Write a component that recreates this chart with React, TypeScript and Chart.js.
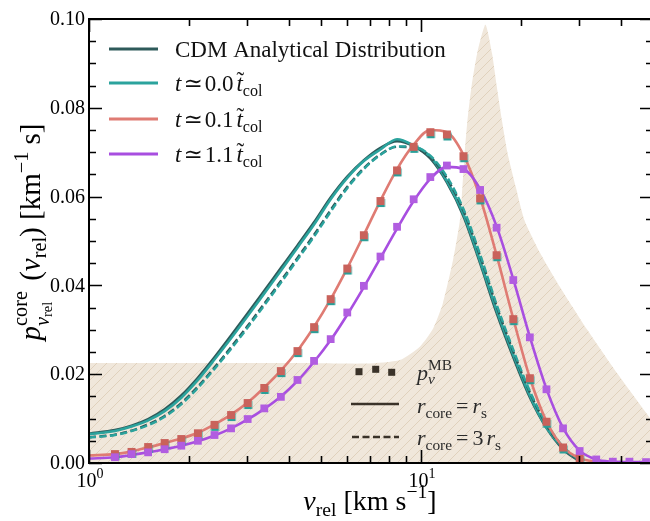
import React, { useEffect, useRef } from 'react';
import { Chart, registerables } from 'chart.js';

Chart.register(...registerables);

// ---------- data ----------
// common log-spaced velocity grid (km/s) for markers and curves
const vGrid = [1.197, 1.343, 1.507, 1.69, 1.897, 2.128, 2.388, 2.679, 3.006, 3.373, 3.784, 4.246, 4.764, 5.346, 5.998, 6.73, 7.551, 8.472, 9.506, 10.67, 11.97, 13.43, 15.07, 16.9, 18.97, 21.28, 23.88, 26.79, 30.06, 33.73, 37.84, 42.46, 47.64];
const vLine = [1.0, ...vGrid];

const cdmSolid = [0.0066, 0.0074, 0.0084, 0.0099, 0.0121, 0.0152, 0.0192, 0.0238, 0.0287, 0.0337, 0.0388, 0.0439, 0.049, 0.0542, 0.0598, 0.0645, 0.0682, 0.071, 0.0725, 0.0714, 0.0686, 0.0632, 0.0556, 0.045, 0.0338, 0.0238, 0.0148, 0.0079, 0.0031, 0.0004, null, null, null, null];
const tealSolid = [0.0065, 0.0072, 0.0082, 0.0096, 0.0117, 0.0147, 0.0187, 0.0233, 0.0281, 0.0331, 0.0382, 0.0433, 0.0485, 0.0537, 0.0594, 0.0642, 0.068, 0.0706, 0.0729, 0.0715, 0.069, 0.0635, 0.056, 0.0455, 0.0344, 0.0244, 0.0152, 0.008, 0.0034, 0.0005, null, null, null, null];
const cdmDashed = [0.0058, 0.0064, 0.0073, 0.0087, 0.0106, 0.0135, 0.0172, 0.0215, 0.0261, 0.0309, 0.0359, 0.041, 0.0462, 0.0514, 0.057, 0.0622, 0.0664, 0.0695, 0.0712, 0.071, 0.0689, 0.0641, 0.0568, 0.0466, 0.0353, 0.0251, 0.0159, 0.0086, 0.0035, 0.0005, null, null, null, null];
const tealDashed = [0.0057, 0.0063, 0.0072, 0.0085, 0.0104, 0.0132, 0.0169, 0.0212, 0.0257, 0.0305, 0.0355, 0.0406, 0.0458, 0.051, 0.0566, 0.0619, 0.0662, 0.0694, 0.0713, 0.0712, 0.0692, 0.0645, 0.0572, 0.047, 0.0357, 0.0255, 0.0162, 0.0089, 0.0037, 0.0006, null, null, null, null];
const redLine = [0.0017, 0.002, 0.0026, 0.0035, 0.0045, 0.0055, 0.0068, 0.0087, 0.0109, 0.0136, 0.017, 0.0208, 0.0253, 0.0307, 0.0369, 0.0439, 0.0514, 0.0591, 0.0662, 0.0717, 0.075, 0.0745, 0.0694, 0.0598, 0.0468, 0.0325, 0.0192, 0.0094, 0.0036, 0.0011, 0.0003, 0.0001, null, null];
const purpleLine = [0.001, 0.0013, 0.0018, 0.0024, 0.0031, 0.0039, 0.0049, 0.0062, 0.0078, 0.0098, 0.0122, 0.015, 0.0185, 0.0228, 0.0277, 0.0334, 0.0396, 0.0462, 0.0528, 0.059, 0.064, 0.0667, 0.0662, 0.0617, 0.0533, 0.0414, 0.0284, 0.0167, 0.0079, 0.0028, 0.0008, 0.0003, 0.0002, 0.0002];

const redMB = [0.002, 0.0025, 0.0036, 0.0045, 0.0054, 0.0067, 0.0086, 0.0108, 0.0135, 0.0169, 0.0207, 0.0252, 0.0306, 0.0369, 0.0438, 0.0513, 0.059, 0.0659, 0.0712, 0.0745, 0.074, 0.0691, 0.0596, 0.0468, 0.0324, 0.0191, 0.0093, 0.0035, 0.0011, null, null, null, null];
const purpleMB = [0.0013, 0.002, 0.0024, 0.0031, 0.0039, 0.005, 0.0063, 0.0078, 0.0099, 0.0123, 0.0149, 0.0187, 0.023, 0.0279, 0.0339, 0.0399, 0.0465, 0.0532, 0.0594, 0.0644, 0.067, 0.0662, 0.0615, 0.053, 0.0412, 0.0283, 0.0166, 0.0078, 0.0027, 0.0008, 0.0003, 0.0003, 0.0002];

// shaded background distribution
const shadeV = [1, 4.32, 6.87, 8.65, 9.92, 10.88, 11.64, 12.49, 13.1, 13.33, 13.54, 13.81, 14.2, 14.77, 15.64, 16.37, 16.92, 17.52, 18.23, 19.3, 20.5, 22.9, 26.2, 31.7, 39.0, 50];
const shadeP = [0.0225, 0.0225, 0.0224, 0.0232, 0.0262, 0.0303, 0.036, 0.0457, 0.0547, 0.0622, 0.0698, 0.0773, 0.0848, 0.0923, 0.0987, 0.0923, 0.0848, 0.0773, 0.0698, 0.0622, 0.0547, 0.0472, 0.0397, 0.03, 0.0202, 0.0092];

const yTicks = [0, 0.02, 0.04, 0.06, 0.08, 0.1];
const yTickLabels = ['0.00', '0.02', '0.04', '0.06', '0.08', '0.10'];
const xMajor = [1, 10];
const xMajorExp = ['0', '1'];
const xMinor = [2, 3, 4, 5, 6, 7, 8, 9, 20, 30, 40, 50];

// ---------- styling helpers ----------
const SERIF = "'Liberation Serif', 'Times New Roman', 'DejaVu Serif', serif";
const C_CDM = '#2e5a5a';
const C_TEAL = '#2ba39d';
const C_RED = '#df7b73';
const C_PURPLE = '#a84ee0';

type Seg = { t?: string; it?: boolean; s?: number; dy?: number; dx?: number; tilde?: boolean; stack?: Seg[][] };

const fnt = (size: number, it?: boolean) => `${it ? 'italic ' : ''}${size}px ${SERIF}`;

function measureSegs(ctx: CanvasRenderingContext2D, segs: Seg[], base: number): number {
  let w = 0;
  for (const g of segs) {
    if (g.stack) {
      w += Math.max(...g.stack.map((s) => measureSegs(ctx, s, base)));
      continue;
    }
    ctx.font = fnt(base * (g.s ?? 1), g.it);
    w += (g.dx ?? 0) + ctx.measureText(g.t ?? '').width;
  }
  return w;
}

function drawSegs(ctx: CanvasRenderingContext2D, segs: Seg[], x: number, y: number, base: number): number {
  for (const g of segs) {
    if (g.stack) {
      let mx = x;
      for (const s of g.stack) mx = Math.max(mx, drawSegs(ctx, s, x, y, base));
      x = mx;
      continue;
    }
    const size = base * (g.s ?? 1);
    ctx.font = fnt(size, g.it);
    x += g.dx ?? 0;
    const yy = y + (g.dy ?? 0) * base;
    const txt = g.t ?? '';
    ctx.fillText(txt, x, yy);
    const w = ctx.measureText(txt).width;
    if (g.tilde) {
      ctx.save();
      ctx.textAlign = 'center';
      ctx.font = fnt(size, false);
      ctx.fillText('\u02DC', x + w * 0.62, yy - size * 0.12);
      ctx.restore();
    }
    x += w;
  }
  return x;
}

function drawRich(ctx: CanvasRenderingContext2D, segs: Seg[], x: number, y: number, base: number, align: 'left' | 'center' = 'left') {
  ctx.save();
  ctx.textAlign = 'left';
  ctx.textBaseline = 'alphabetic';
  const w = measureSegs(ctx, segs, base);
  const x0 = align === 'center' ? x - w / 2 : x;
  drawSegs(ctx, segs, x0, y, base);
  ctx.restore();
}

function makeHatch(): CanvasPattern | string {
  const s = 10;
  const c = document.createElement('canvas');
  c.width = s;
  c.height = s;
  const g = c.getContext('2d');
  if (!g) return '#f0e7db';
  g.fillStyle = '#f0e7db';
  g.fillRect(0, 0, s, s);
  g.strokeStyle = '#e0d1bc';
  g.lineWidth = 1;
  g.beginPath();
  g.moveTo(0, s);
  g.lineTo(s, 0);
  g.moveTo(-1, 1);
  g.lineTo(1, -1);
  g.moveTo(s - 1, s + 1);
  g.lineTo(s + 1, s - 1);
  g.stroke();
  const p = g.createPattern(c, 'repeat');
  return p ?? '#f0e7db';
}

function makeRedMarker(): HTMLCanvasElement {
  const c = document.createElement('canvas');
  c.width = 14;
  c.height = 14;
  const g = c.getContext('2d');
  if (g) {
    g.fillStyle = '#2a9f98';
    g.fillRect(3.5, 5, 8, 8);
    g.fillStyle = '#c9625b';
    g.fillRect(3, 3, 8, 8);
  }
  return c;
}

const pts = (xs: number[], ys: (number | null)[]) =>
  xs.map((x, i) => ({ x, y: ys[i] })).filter((p) => p.y !== null && p.y !== undefined) as { x: number; y: number }[];

const decorPlugin = {
  id: 'decor',
  afterDraw(chart: any) {
    const ctx: CanvasRenderingContext2D = chart.ctx;
    const { left, right, top, bottom } = chart.chartArea;
    const xs = chart.scales.x;
    const ys = chart.scales.y;
    ctx.save();
    // ticks
    ctx.strokeStyle = '#000';
    ctx.lineWidth = 1.6;
    ctx.beginPath();
    for (let k = 0; k <= 20; k++) {
      const v = k * 0.005;
      const y = Math.round(ys.getPixelForValue(v)) + 0.5;
      const len = k % 4 === 0 ? 13 : 7;
      ctx.moveTo(left, y);
      ctx.lineTo(left + len, y);
      ctx.moveTo(right, y);
      ctx.lineTo(right - len, y);
    }
    const xt = [...xMajor.map((v) => [v, 13]), ...xMinor.map((v) => [v, 7])];
    for (const [v, len] of xt) {
      const x = Math.round(xs.getPixelForValue(v)) + 0.5;
      ctx.moveTo(x, bottom);
      ctx.lineTo(x, bottom - len);
      ctx.moveTo(x, top);
      ctx.lineTo(x, top + len);
    }
    ctx.stroke();
    // frame
    ctx.lineWidth = 2;
    ctx.strokeRect(left, top, right - left, bottom - top);

    // tick labels
    ctx.fillStyle = '#000';
    ctx.font = fnt(20);
    ctx.textAlign = 'right';
    ctx.textBaseline = 'middle';
    yTicks.forEach((v, i) => {
      ctx.fillText(yTickLabels[i], left - 4, ys.getPixelForValue(v) + 1);
    });
    xMajor.forEach((v, i) => {
      drawRich(ctx, [{ t: '10' }, { t: xMajorExp[i], s: 0.7, dy: -0.45 }], xs.getPixelForValue(v) + 1, bottom + 24, 20, 'center');
    });

    // axis titles
    drawRich(
      ctx,
      [{ t: 'v', it: true }, { t: 'rel', s: 0.7, dy: 0.22 }, { t: ' [km s' }, { t: '\u22121', s: 0.7, dy: -0.42 }, { t: ']' }],
      370,
      510,
      28,
      'center'
    );
    ctx.save();
    ctx.translate(40, 232);
    ctx.rotate(-Math.PI / 2);
    drawRich(
      ctx,
      [
        { t: 'p', it: true },
        { stack: [[{ t: 'core', s: 0.7, dy: -0.45 }], [{ t: 'v', it: true, s: 0.7, dy: 0.3 }, { t: 'rel', s: 0.5, dy: 0.42 }]] },
        { t: ' (', dx: 3 },
        { t: 'v', it: true },
        { t: 'rel', s: 0.7, dy: 0.22 },
        { t: ') [km' },
        { t: '\u22121', s: 0.7, dy: -0.42 },
        { t: ' s]' },
      ],
      0,
      0,
      29,
      'center'
    );
    ctx.restore();

    // upper legend
    const rows: { c: string; y: number; segs: Seg[] }[] = [
      { c: C_CDM, y: 49, segs: [{ t: 'CDM Analytical Distribution' }] },
      { c: C_TEAL, y: 83, segs: [{ t: 't', it: true }, { t: '\u2243', dx: 2 }, { t: '0.0', dx: 2 }, { t: 't', it: true, dx: 3, tilde: true }, { t: 'col', s: 0.7, dy: 0.22 }] },
      { c: C_RED, y: 119, segs: [{ t: 't', it: true }, { t: '\u2243', dx: 2 }, { t: '0.1', dx: 2 }, { t: 't', it: true, dx: 3, tilde: true }, { t: 'col', s: 0.7, dy: 0.22 }] },
      { c: C_PURPLE, y: 154, segs: [{ t: 't', it: true }, { t: '\u2243', dx: 2 }, { t: '1.1', dx: 2 }, { t: 't', it: true, dx: 3, tilde: true }, { t: 'col', s: 0.7, dy: 0.22 }] },
    ];
    for (const r of rows) {
      ctx.strokeStyle = r.c;
      ctx.lineWidth = 3;
      ctx.beginPath();
      ctx.moveTo(109, r.y);
      ctx.lineTo(158, r.y);
      ctx.stroke();
      ctx.fillStyle = '#111';
      drawRich(ctx, r.segs, 175, r.y + 8, 23);
    }

    // lower legend
    const dark = '#3a3229';
    ctx.fillStyle = dark;
    [
      [359, 371.7],
      [375.7, 369.3],
      [391.7, 372.3],
    ].forEach(([x, y]) => ctx.fillRect(x - 3.5, y - 3.5, 7, 7));
    ctx.strokeStyle = dark;
    ctx.lineWidth = 2.5;
    ctx.beginPath();
    ctx.moveTo(351, 404);
    ctx.lineTo(399, 404);
    ctx.stroke();
    ctx.setLineDash([7, 3.5]);
    ctx.beginPath();
    ctx.moveTo(352, 437);
    ctx.lineTo(399, 437);
    ctx.stroke();
    ctx.setLineDash([]);
    ctx.fillStyle = '#2b2b2b';
    drawRich(ctx, [{ t: 'p', it: true }, { stack: [[{ t: 'MB', s: 0.7, dy: -0.45 }], [{ t: 'v', it: true, s: 0.7, dy: 0.18 }]] }], 417, 380, 22);
    drawRich(ctx, [{ t: 'r', it: true }, { t: 'core', s: 0.7, dy: 0.22 }, { t: '=', dx: 4 }, { t: 'r', it: true, dx: 4 }, { t: 's', s: 0.7, dy: 0.22 }], 417, 413, 22);
    drawRich(ctx, [{ t: 'r', it: true }, { t: 'core', s: 0.7, dy: 0.22 }, { t: '=', dx: 4 }, { t: '3', dx: 4 }, { t: 'r', it: true, dx: 3 }, { t: 's', s: 0.7, dy: 0.22 }], 417, 445, 22);

    ctx.restore();
  },
};

export default function App() {
  const ref = useRef<HTMLCanvasElement>(null);
  useEffect(() => {
    const canvas = ref.current;
    if (!canvas) return;
    const hatch = makeHatch();
    const redMarker = makeRedMarker();
    const lineDs = (label: string, ys: (number | null)[], color: string, order: number, dash?: number[], width = 2.6) => ({
      label,
      data: pts(vLine, ys),
      borderColor: color,
      backgroundColor: color,
      borderWidth: width,
      borderDash: dash ?? [],
      pointRadius: 0,
      fill: false,
      cubicInterpolationMode: 'monotone' as const,
      order,
    });
    const chart = new Chart(canvas, {
      type: 'line',
      data: {
        datasets: [
          {
            label: 'shade',
            data: pts(shadeV, shadeP),
            borderWidth: 0,
            borderColor: 'rgba(0,0,0,0)',
            backgroundColor: hatch as any,
            pointRadius: 0,
            fill: 'origin',
            tension: 0.2,
            order: 20,
          },
          lineDs('CDM', cdmSolid, C_CDM, 12),
          lineDs('t0', tealSolid, C_TEAL, 11),
          lineDs('CDM 3rs', cdmDashed, '#2d5656', 10, [7, 3.5], 2.4),
          lineDs('t0 3rs', tealDashed, C_TEAL, 9, [7, 3.5], 2.4),
          lineDs('t0.1', redLine, C_RED, 8),
          lineDs('t1.1', purpleLine, C_PURPLE, 7),
          {
            label: 'red MB',
            data: pts(vGrid, redMB),
            showLine: false,
            pointStyle: redMarker as any,
            pointRadius: 5,
            borderWidth: 0,
            order: 5,
          },
          {
            label: 'purple MB',
            data: pts(vGrid, purpleMB),
            showLine: false,
            pointStyle: 'rect',
            pointRadius: 5.5,
            backgroundColor: '#b15de0',
            borderColor: '#b15de0',
            borderWidth: 0,
            order: 4,
          },
        ] as any,
      },
      options: {
        responsive: false,
        devicePixelRatio: 1,
        animation: false,
        layout: { padding: { left: 89, top: 19, right: 7, bottom: 58 } },
        scales: {
          x: { type: 'logarithmic', min: 1, max: 50, display: false },
          y: { type: 'linear', min: 0, max: 0.1, display: false },
        },
        plugins: { legend: { display: false }, tooltip: { enabled: false } },
        events: [],
      },
      plugins: [decorPlugin],
    });
    return () => chart.destroy();
  }, []);
  return (
    <div style={{ position: 'absolute', left: 0, top: 0, width: 650, height: 521, overflow: 'hidden', background: '#fff' }}>
      <canvas ref={ref} width={660} height={521} style={{ width: 660, height: 521, display: 'block' }} />
    </div>
  );
}
